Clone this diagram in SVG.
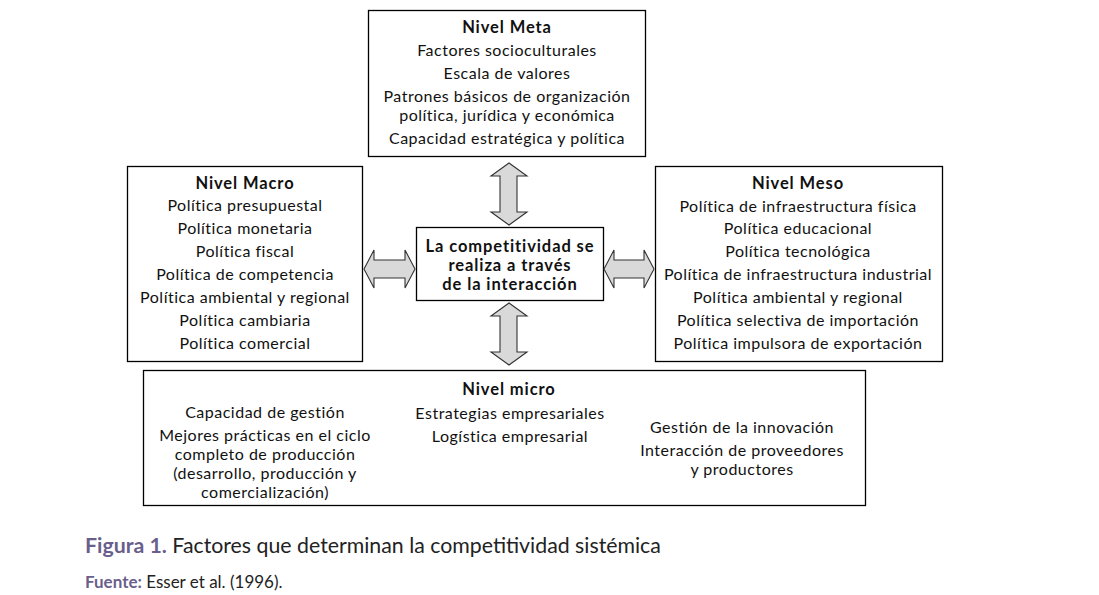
<svg xmlns="http://www.w3.org/2000/svg" width="1099" height="595" viewBox="0 0 1099 595">
<style>
.box{fill:#fff;stroke:#000;stroke-width:1.3}
.t{font-family:Lato,"Noto Sans",sans-serif;font-size:16px;letter-spacing:0.5px;fill:#111;text-anchor:middle}
.b{font-weight:bold;font-size:16.5px;letter-spacing:0.9px}
.arr{fill:#d9d9d9;stroke:#333;stroke-width:1.1}
.cap{font-family:Lato,"Noto Sans",sans-serif;fill:#222}
.pur{fill:#6a5f8c;font-weight:bold}
</style>
<rect width="1099" height="595" fill="#fff"/>
<g id="meta">
<rect class="box" x="368.5" y="10.5" width="277" height="146"/>
<text class="t b" x="507" y="33">Nivel Meta</text>
<text class="t" x="507" y="56">Factores socioculturales</text>
<text class="t" x="507" y="79">Escala de valores</text>
<text class="t" x="507" y="102">Patrones básicos de organización</text>
<text class="t" x="507" y="121">política, jurídica y económica</text>
<text class="t" x="507" y="144">Capacidad estratégica y política</text>
</g>
<g id="macro">
<rect class="box" x="127.5" y="166.5" width="235" height="195"/>
<text class="t b" x="245" y="189">Nivel Macro</text>
<text class="t" x="245" y="211">Política presupuestal</text>
<text class="t" x="245" y="234">Política monetaria</text>
<text class="t" x="245" y="257">Política fiscal</text>
<text class="t" x="245" y="280">Política de competencia</text>
<text class="t" x="245" y="303">Política ambiental y regional</text>
<text class="t" x="245" y="326">Política cambiaria</text>
<text class="t" x="245" y="349">Política comercial</text>
</g>
<g id="meso">
<rect class="box" x="655.5" y="166.5" width="287" height="195"/>
<text class="t b" x="798" y="189">Nivel Meso</text>
<text class="t" x="798" y="212">Política de infraestructura física</text>
<text class="t" x="798" y="234">Política educacional</text>
<text class="t" x="798" y="257">Política tecnológica</text>
<text class="t" x="798" y="280">Política de infraestructura industrial</text>
<text class="t" x="798" y="303">Política ambiental y regional</text>
<text class="t" x="798" y="326">Política selectiva de importación</text>
<text class="t" x="798" y="349">Política impulsora de exportación</text>
</g>
<g id="center">
<rect class="box" x="416.5" y="227.5" width="187" height="73"/>
<text class="t b" x="510" y="252">La competitividad se</text>
<text class="t b" x="510" y="271">realiza a través</text>
<text class="t b" x="510" y="290">de la interacción</text>
</g>
<g id="micro">
<rect class="box" x="143.5" y="370.5" width="722" height="135"/>
<text class="t b" x="509" y="395">Nivel micro</text>
<text class="t" x="265" y="418">Capacidad de gestión</text>
<text class="t" x="265" y="441">Mejores prácticas en el ciclo</text>
<text class="t" x="265" y="460">completo de producción</text>
<text class="t" x="265" y="479">(desarrollo, producción y</text>
<text class="t" x="265" y="498">comercialización)</text>
<text class="t" x="510" y="419">Estrategias empresariales</text>
<text class="t" x="510" y="442">Logística empresarial</text>
<text class="t" x="742" y="433">Gestión de la innovación</text>
<text class="t" x="742" y="456">Interacción de proveedores</text>
<text class="t" x="742" y="475">y productores</text>
</g>
<g id="connectors">
<path class="arr" d="M509,163 L527,176 L517,176 L517,212 L527,212 L509,225 L491,212 L500,212 L500,176 L491,176 Z"/>
<path class="arr" d="M509,303 L527,316 L517,316 L517,352 L527,352 L509,365 L491,352 L500,352 L500,316 L491,316 Z"/>
<path class="arr" d="M364,269 L374,250 L374,260 L405,260 L405,250 L415,269 L405,288 L405,278 L374,278 L374,288 Z"/>
<path class="arr" d="M604,269 L614,250 L614,260 L644,260 L644,250 L654,269 L644,288 L644,278 L614,278 L614,288 Z"/>
</g>
<g id="caption">
<text class="cap" x="85" y="553" font-size="21.3"><tspan class="pur">Figura 1.</tspan> Factores que determinan la competitividad sistémica</text>
<text class="cap" x="85" y="588" font-size="17"><tspan class="pur">Fuente:</tspan> Esser et al. (1996).</text>
</g>
</svg>
